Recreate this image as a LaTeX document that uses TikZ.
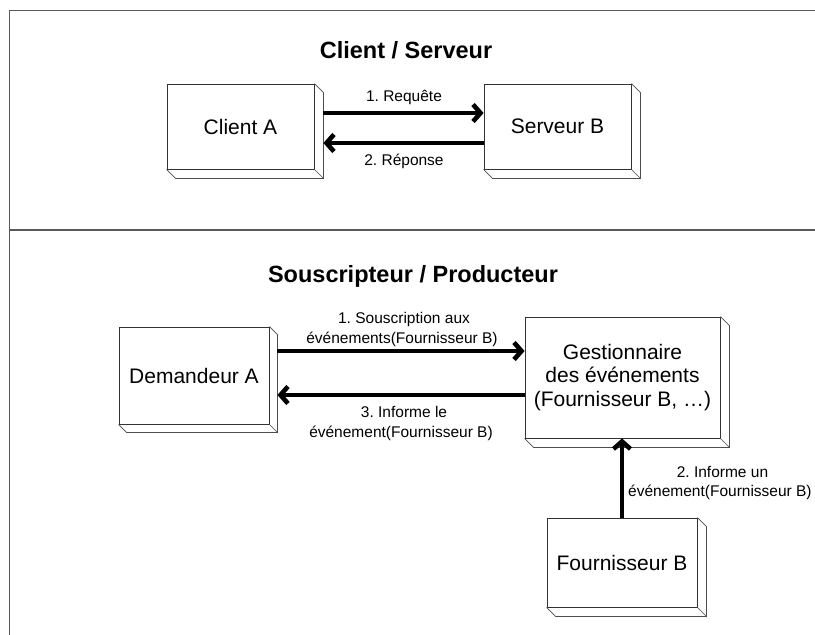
\documentclass[tikz,border=0pt]{standalone}
\usepackage{fontspec}
\setmainfont{Liberation Sans}
\usetikzlibrary{arrows.meta}
\frenchspacing
\tikzset{
  frameline/.style={draw=black!65, line width=1.6pt},
  front/.style={draw=black!80, line width=0.8pt, inner sep=0pt,
    font=\fontsize{21}{23.5}\selectfont, align=center},
  sideline/.style={draw=black!70, line width=0.7pt, line join=miter},
  flow/.style={line width=4.6pt, -{Straight Barb[length=7.5pt,width=17pt]}},
  lbl/.style={font=\fontsize{15.5}{20}\selectfont, inner sep=0pt},
  ttl/.style={font=\fontsize{23.5}{26}\selectfont\bfseries, inner sep=0pt},
}
\newcommand\extrude[2]{%
  \draw[sideline] (#1.north east) -- ++(#2,#2) -- ([shift={(#2,#2)}]#1.south east)
    -- ([shift={(#2,#2)}]#1.south west) -- (#1.south west);
  \draw[sideline] (#1.south east) -- ++(#2,#2);
}
\begin{document}
\begin{tikzpicture}[x=1pt,y=-1pt]
\useasboundingbox (0,0) rectangle (815,635);
\clip (0,0) rectangle (815,635);
% frame
\draw[frameline] (9.5,640) -- (9.5,10.5) -- (820,10.5);
\draw[frameline] (9.5,230) -- (820,230);
% titles
\node[ttl, anchor=base] (t1) at (406,58) {Client / Serveur};
\node[ttl, anchor=base] (t2) at (413,282) {Souscripteur / Producteur};
% top section boxes
\node[front, minimum width=147pt, minimum height=85pt] (ca) at (240.5,126.5) {Client A};
\extrude{ca}{9}
\node[front, minimum width=147pt, minimum height=85pt] (sb) at (557.5,126.5) {Serveur B};
\extrude{sb}{9}
\draw[flow] ([shift={(9,-13.5)}]ca.east) -- ([shift={(0,-13.5)}]sb.west);
\draw[flow] ([shift={(0,16.5)}]sb.west) -- ([shift={(9,16.5)}]ca.east);
\node[lbl, anchor=base] (l1) at (404,101) {1. Requête};
\node[lbl, anchor=base] (l2) at (404,165) {2. Réponse};
% bottom section boxes
\node[front, minimum width=150pt, minimum height=97pt] (da) at (194,375.5) {Demandeur A};
\extrude{da}{8}
\node[front, minimum width=195pt, minimum height=121pt] (gs) at (622.5,377.5) {Gestionnaire\\des événements\\(Fournisseur B, …)};
\extrude{gs}{9}
\node[front, minimum width=150pt, minimum height=89pt] (fb) at (622,562.5) {Fournisseur B};
\extrude{fb}{9}
\draw[flow] ([shift={(8,-24.5)}]da.east) -- ([shift={(0,-26.5)}]gs.west);
\draw[flow] ([shift={(0,17.5)}]gs.west) -- ([shift={(8,19.5)}]da.east);
\draw[flow] (fb.north) -- (fb.north |- gs.south);
\node[lbl, anchor=base] (l3) at (404,323) {1. Souscription aux};
\node[lbl, anchor=base] (l4) at (402,343) {événements(Fournisseur B)};
\node[lbl, anchor=base] (l5) at (404,417) {3. Informe le};
\node[lbl, anchor=base] (l6) at (401,437) {événement(Fournisseur B)};
\node[lbl, anchor=base] (l7) at (722.5,477) {2. Informe un};
\node[lbl, anchor=base west] (l8) at (628,496) {événement(Fournisseur B)};
\end{tikzpicture}
\end{document}
